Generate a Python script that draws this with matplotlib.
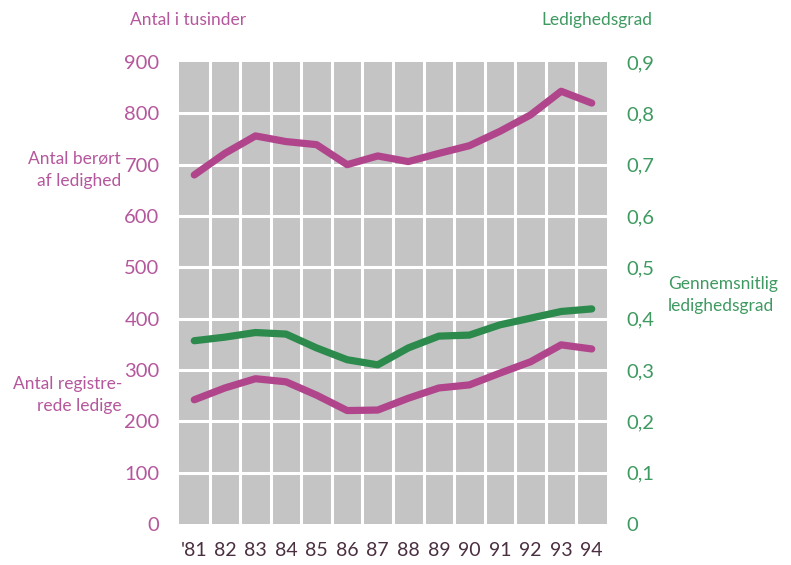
import matplotlib
matplotlib.use("Agg")
import matplotlib.pyplot as plt
import numpy as np

years = [81, 82, 83, 84, 85, 86, 87, 88, 89, 90, 91, 92, 93, 94]
year_labels = ["'81", "82", "83", "84", "85", "86", "87", "88", "89", "90", "91", "92", "93", "94"]
berort = [680, 722, 756, 745, 739, 700, 717, 706, 722, 737, 765, 797, 843, 820]
registrerede = [242, 265, 283, 277, 251, 221, 222, 245, 265, 271, 294, 316, 349, 341]
ledighedsgrad = [0.357, 0.364, 0.373, 0.370, 0.343, 0.320, 0.310, 0.343, 0.366, 0.368, 0.388, 0.401, 0.414, 0.419]
left_ticks = [0, 100, 200, 300, 400, 500, 600, 700, 800, 900]
right_ticks = [0, 0.1, 0.2, 0.3, 0.4, 0.5, 0.6, 0.7, 0.8, 0.9]
right_labels = ["0", "0,1", "0,2", "0,3", "0,4", "0,5", "0,6", "0,7", "0,8", "0,9"]

MAG_LINE = "#b0458c"
MAG_TEXT = "#b5579c"
GRN_LINE = "#2b8a4c"
GRN_TEXT = "#3f9a62"
BG = "#c4c4c4"
FONT = "Lato"

fig = plt.figure(figsize=(7.91, 5.65), dpi=100)
ax = fig.add_axes([179/791, 1-524/565, 428/791, 462/565])
ax.set_facecolor(BG)
ax.set_xlim(80.5, 94.5)
ax.set_ylim(0, 900)
for s in ax.spines.values():
    s.set_visible(False)

# white grid
for x in np.arange(81.5, 94.5, 1):
    ax.axvline(x, color="white", lw=2.2, zorder=1)
for y in left_ticks[1:-1]:
    ax.axhline(y, color="white", lw=2.2, zorder=1)

ax.plot(years, berort, color=MAG_LINE, lw=5.2, solid_capstyle="round", solid_joinstyle="round", zorder=3)
ax.plot(years, registrerede, color=MAG_LINE, lw=5.2, solid_capstyle="round", solid_joinstyle="round", zorder=3)

ax2 = ax.twinx()
ax2.set_ylim(0, 0.9)
for s in ax2.spines.values():
    s.set_visible(False)
ax2.plot(years, ledighedsgrad, color=GRN_LINE, lw=5.2, solid_capstyle="round", solid_joinstyle="round", zorder=3)

ax.set_xticks(years)
ax.set_xticklabels(year_labels, fontsize=14, color="#4a2f40", family=FONT)
ax.set_yticks(left_ticks)
ax.set_yticklabels([str(v) for v in left_ticks], fontsize=14.5, color=MAG_TEXT, family=FONT)
ax.tick_params(axis="both", length=0)
ax.tick_params(axis="y", pad=14)
ax.tick_params(axis="x", pad=13)
ax2.set_yticks(right_ticks)
ax2.set_yticklabels(right_labels, fontsize=14.5, color=GRN_TEXT, family=FONT)
ax2.tick_params(axis="y", length=0, pad=14)

fig.text(130/791, 1-20/565, "Antal i tusinder", color=MAG_TEXT, fontsize=12.5, family=FONT, ha="left", va="center")
fig.text(652/791, 1-20/565, "Ledighedsgrad", color=GRN_TEXT, fontsize=12.5, family=FONT, ha="right", va="center")
fig.text(121/791, 1-170/565, "Antal berørt\naf ledighed", color=MAG_TEXT, fontsize=12.5, family=FONT, ha="right", va="center", multialignment="right", linespacing=1.5)
fig.text(122/791, 1-395/565, "Antal registre-\nrede ledige", color=MAG_TEXT, fontsize=12.5, family=FONT, ha="right", va="center", multialignment="right", linespacing=1.5)
fig.text(668/791, 1-295/565, "Gennemsnitlig\nledighedsgrad", color=GRN_TEXT, fontsize=12.5, family=FONT, ha="left", va="center", multialignment="left", linespacing=1.5)

fig.savefig("out.png", dpi=100, facecolor="white")
